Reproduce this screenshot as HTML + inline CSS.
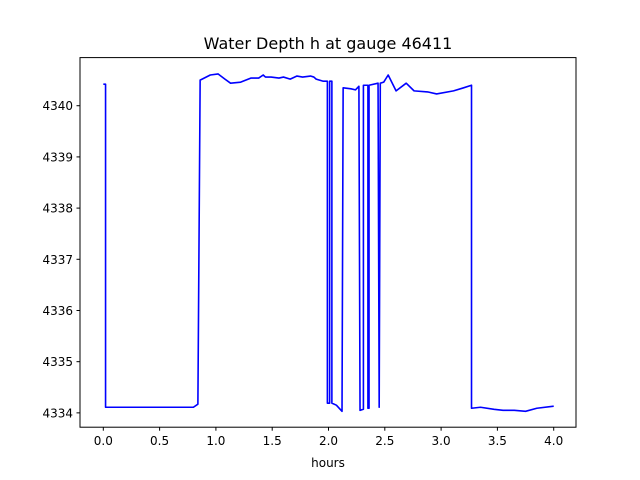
<!DOCTYPE html>
<html><head><meta charset="utf-8"><style>
html,body{margin:0;padding:0;background:#fff;}
svg{display:block;font-family:"DejaVu Sans","Liberation Sans",sans-serif;}
</style></head><body>
<svg id="chart" width="640" height="480" viewBox="0 0 640 480">
<rect x="0" y="0" width="640" height="480" fill="#fff"/>
<text x="328" y="49" font-size="16" text-anchor="middle" fill="#000">Water Depth h at gauge 46411</text>
<g id="xticks"></g>
<g id="yticks"></g>
<path id="series" fill="none" stroke="#0000ff" stroke-width="1.6" stroke-linejoin="round"/>
<rect x="80" y="57.6" width="496" height="369.6" fill="none" stroke="#000" stroke-width="1"/>
<text x="328" y="467" font-size="12" text-anchor="middle" fill="#000">hours</text>
</svg>
<script>
const hours = [0,0.02,0.02,0.80,0.84,0.86,0.95,1.02,1.08,1.13,1.22,1.31,1.38,1.42,1.44,1.49,1.56,1.60,1.66,1.72,1.77,1.84,1.87,1.89,1.95,1.99,1.99,2.01,2.01,2.03,2.03,2.07,2.12,2.13,2.20,2.24,2.27,2.28,2.31,2.31,2.35,2.35,2.36,2.36,2.44,2.45,2.46,2.49,2.53,2.60,2.69,2.76,2.88,2.96,3.11,3.20,3.27,3.27,3.35,3.47,3.55,3.65,3.75,3.85,4.00];
const depth = [4340.42,4340.42,4334.11,4334.11,4334.17,4340.50,4340.60,4340.62,4340.52,4340.44,4340.46,4340.54,4340.54,4340.60,4340.56,4340.56,4340.54,4340.56,4340.52,4340.58,4340.56,4340.58,4340.56,4340.52,4340.48,4340.48,4334.19,4334.19,4340.48,4340.48,4334.19,4334.15,4334.03,4340.35,4340.33,4340.31,4340.38,4334.05,4334.07,4340.40,4340.40,4334.09,4334.09,4340.40,4340.44,4334.11,4340.44,4340.46,4340.60,4340.29,4340.44,4340.29,4340.27,4340.23,4340.29,4340.35,4340.40,4334.09,4334.11,4334.07,4334.05,4334.05,4334.03,4334.09,4334.13];
const xTickVals = [0.0,0.5,1.0,1.5,2.0,2.5,3.0,3.5,4.0];
const xTickLabels = ["0.0","0.5","1.0","1.5","2.0","2.5","3.0","3.5","4.0"];
const yTickVals = [4334,4335,4336,4337,4338,4339,4340];
const yTickLabels = ["4334","4335","4336","4337","4338","4339","4340"];

const X0=80,X1=576,Y0=57.6,Y1=427.2;
const xmin=-0.207,xmax=4.198,ymin=4333.72,ymax=4340.94;
function sx(v){return X0+(v-xmin)/(xmax-xmin)*(X1-X0);}
function sy(v){return Y1-(v-ymin)/(ymax-ymin)*(Y1-Y0);}
const NS="http://www.w3.org/2000/svg";
const xg=document.getElementById('xticks'), yg=document.getElementById('yticks');
xTickVals.forEach((v,i)=>{
  const l=document.createElementNS(NS,'line');
  l.setAttribute('x1',sx(v));l.setAttribute('x2',sx(v));l.setAttribute('y1',Y1);l.setAttribute('y2',Y1+3.5);
  l.setAttribute('stroke','#000');
  
  
  xg.appendChild(l);
  const t=document.createElementNS(NS,'text');
  t.setAttribute('x',sx(v));t.setAttribute('y',Y1+18);t.setAttribute('font-size','12');t.setAttribute('text-anchor','middle');
  t.textContent=xTickLabels[i];
  
  
  xg.appendChild(t);
});
yTickVals.forEach((v,i)=>{
  const l=document.createElementNS(NS,'line');
  l.setAttribute('x1',X0-3.5);l.setAttribute('x2',X0);l.setAttribute('y1',sy(v));l.setAttribute('y2',sy(v));
  l.setAttribute('stroke','#000');
  
  
  yg.appendChild(l);
  const t=document.createElementNS(NS,'text');
  t.setAttribute('x',X0-7);t.setAttribute('y',sy(v)+4.5);t.setAttribute('font-size','12');t.setAttribute('text-anchor','end');
  t.textContent=yTickLabels[i];
  
  
  yg.appendChild(t);
});
let d='';
hours.forEach((h,i)=>{d+=(i?'L':'M')+sx(h).toFixed(2)+' '+sy(depth[i]).toFixed(2);});
document.getElementById('series').setAttribute('d',d);
</script>
</body></html>
